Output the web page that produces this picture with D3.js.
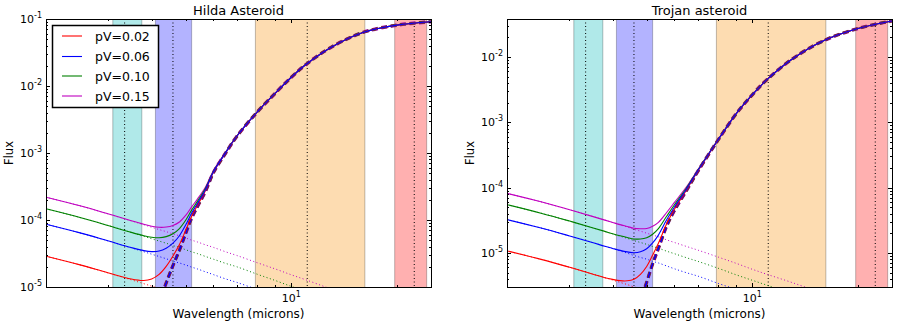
<!DOCTYPE html>
<html>
<head>
<meta charset="utf-8">
<script src="https://cdn.jsdelivr.net/npm/d3@7/dist/d3.min.js"></script>
<style>
    body { margin: 0; background: #fff; }
    svg { font-family: "DejaVu Sans", sans-serif; }
</style>
</head>
<body>
<svg id="chart" width="899" height="328"></svg>
<script>
// wavelength grid (microns) the values below were read at
const wavelength = [2.0, 2.5, 3.0, 3.5, 3.8, 4.0, 4.2, 4.4, 4.6, 4.8, 5.0, 5.2, 5.4, 5.7, 6.0, 6.5, 7.0, 8.0, 9.0, 10, 11, 13, 16, 20, 25];

const albedoLabels = ["pV=0.02", "pV=0.06", "pV=0.10", "pV=0.15"];

// Hilda: thermal emission (same for all albedos) and reflected light per albedo
const hildaThermal = [null, null, null, 3.4e-7, 1.29e-6, 2.88e-6, 5.9e-6, 1.15e-5, 2.09e-5, 3.55e-5, 6.3e-5, 1.07e-4, 1.58e-4, 2.72e-4, 5.1e-4, 1.0e-3, 1.78e-3, 4.1e-3, 7.8e-3, 0.0135, 0.0209, 0.038, 0.063, 0.081, 0.091];
const hildaReflected002 = [2.88e-5, 2.14e-5, 1.63e-5, 1.28e-5, 1.12e-5, 1.03e-5, 9.5e-6, 8.8e-6, 8.1e-6, 7.6e-6, 7.1e-6, 6.6e-6, 6.2e-6, 5.6e-6, 5.1e-6, 4.4e-6, 3.9e-6, 3.05e-6, 2.45e-6, 2.0e-6, 1.68e-6, 1.23e-6, 8.3e-7, 5.4e-7, 3.5e-7];
const hildaReflected006 = [8.64e-5, 6.42e-5, 4.89e-5, 3.84e-5, 3.36e-5, 3.09e-5, 2.85e-5, 2.64e-5, 2.43e-5, 2.28e-5, 2.13e-5, 1.98e-5, 1.86e-5, 1.68e-5, 1.53e-5, 1.32e-5, 1.17e-5, 9.15e-6, 7.35e-6, 6.0e-6, 5.04e-6, 3.69e-6, 2.49e-6, 1.62e-6, 1.05e-6];
const hildaReflected010 = [1.47e-4, 1.09e-4, 8.3e-5, 6.5e-5, 5.7e-5, 5.25e-5, 4.85e-5, 4.5e-5, 4.15e-5, 3.9e-5, 3.6e-5, 3.35e-5, 3.15e-5, 2.85e-5, 2.6e-5, 2.25e-5, 2.0e-5, 1.55e-5, 1.25e-5, 1.02e-5, 8.6e-6, 6.3e-6, 4.2e-6, 2.75e-6, 1.8e-6];
const hildaReflected015 = [2.19e-4, 1.63e-4, 1.24e-4, 9.7e-5, 8.5e-5, 7.8e-5, 7.2e-5, 6.7e-5, 6.2e-5, 5.8e-5, 5.4e-5, 5.0e-5, 4.7e-5, 4.25e-5, 3.9e-5, 3.35e-5, 2.95e-5, 2.3e-5, 1.86e-5, 1.52e-5, 1.28e-5, 9.3e-6, 6.3e-6, 4.1e-6, 2.65e-6];

// Trojan
const trojanThermal = [null, null, null, null, null, 9.1e-8, 2.2e-7, 4.6e-7, 9.3e-7, 1.86e-6, 3.55e-6, 6.8e-6, 1.17e-5, 2.57e-5, 4.47e-5, 9.1e-5, 1.78e-4, 5.4e-4, 1.35e-3, 2.63e-3, 4.47e-3, 9.3e-3, 0.0178, 0.0272, 0.0355];
const trojanReflected002 = [1.07e-5, 7.95e-6, 6.06e-6, 4.76e-6, 4.17e-6, 3.83e-6, 3.53e-6, 3.27e-6, 3.01e-6, 2.83e-6, 2.64e-6, 2.46e-6, 2.31e-6, 2.08e-6, 1.9e-6, 1.64e-6, 1.45e-6, 1.13e-6, 9.1e-7, 7.4e-7, 6.2e-7, 4.6e-7, 3.1e-7, 2.0e-7, 1.3e-7];
const trojanReflected006 = [3.23e-5, 2.4e-5, 1.83e-5, 1.44e-5, 1.26e-5, 1.16e-5, 1.07e-5, 9.9e-6, 9.1e-6, 8.5e-6, 8.0e-6, 7.4e-6, 7.0e-6, 6.3e-6, 5.7e-6, 4.95e-6, 4.4e-6, 3.4e-6, 2.75e-6, 2.25e-6, 1.87e-6, 1.39e-6, 9.4e-7, 6.0e-7, 3.9e-7];
const trojanReflected010 = [5.46e-5, 4.05e-5, 3.09e-5, 2.43e-5, 2.13e-5, 1.95e-5, 1.8e-5, 1.67e-5, 1.54e-5, 1.44e-5, 1.35e-5, 1.25e-5, 1.18e-5, 1.06e-5, 9.7e-6, 8.4e-6, 7.4e-6, 5.8e-6, 4.6e-6, 3.8e-6, 3.2e-6, 2.35e-6, 1.58e-6, 1.02e-6, 6.6e-7];
const trojanReflected015 = [8.13e-5, 6.04e-5, 4.6e-5, 3.62e-5, 3.17e-5, 2.91e-5, 2.68e-5, 2.49e-5, 2.29e-5, 2.15e-5, 2.0e-5, 1.87e-5, 1.76e-5, 1.58e-5, 1.44e-5, 1.25e-5, 1.1e-5, 8.6e-6, 6.9e-6, 5.6e-6, 4.7e-6, 3.5e-6, 2.36e-6, 1.52e-6, 9.9e-7];

// filter bands (microns) and their centre lines
const bandRanges = [[3.1, 3.75], [4.1, 5.2], [7.9, 16.2], [19.7, 24.3]];
const bandCentres = [3.35, 4.6, 11.1, 22.4];

const xMajorTicks = [10];
const xMinorTicks = [2, 3, 4, 5, 6, 7, 8, 9, 20];

const seriesColors = ["#ff0000", "#0000ff", "#008000", "#bf00bf"];
const bandColors = ["#b0e9e9", "#b3b3ff", "#fddcb1", "#ffb0b0"];

const svg = d3.select("#chart");
const plotTop = 19, plotBottom = 287, plotWidth = 385;

const panels = [
    { title: "Hilda Asteroid", left: 46, yDomain: [1e-5, 1e-1], thermal: hildaThermal,
      reflected: [hildaReflected002, hildaReflected006, hildaReflected010, hildaReflected015], legend: true },
    { title: "Trojan asteroid", left: 507, yDomain: [3.0e-6, 3.8e-2], thermal: trojanThermal,
      reflected: [trojanReflected002, trojanReflected006, trojanReflected010, trojanReflected015], legend: false }
];

function powLabel(g, x, y, exp, anchor) {
    const t = g.append("text")
        .attr("x", x).attr("y", y)
        .attr("text-anchor", anchor)
        .attr("font-size", 11)
        .attr("fill", "#000");
    t.append("tspan").text("10");
    t.append("tspan").attr("font-size", 8).attr("dy", -5).text(exp);
}

panels.forEach(function (p, pi) {
    const x = d3.scaleLog().domain([2, 25]).range([p.left, p.left + plotWidth]);
    const y = d3.scaleLog().domain(p.yDomain).range([plotBottom, plotTop]);
    const g = svg.append("g");

    g.append("clipPath").attr("id", "clip" + pi)
        .append("rect")
        .attr("x", p.left).attr("y", plotTop)
        .attr("width", plotWidth).attr("height", plotBottom - plotTop);

    const plot = g.append("g").attr("clip-path", "url(#clip" + pi + ")");

    // bands
    plot.selectAll(".band")
        .data(bandRanges)
        .enter()
        .append("rect")
        .attr("x", function (d) { return x(d[0]) })
        .attr("width", function (d) { return x(d[1]) - x(d[0]) })
        .attr("y", plotTop - 2)
        .attr("height", plotBottom - plotTop + 4)
        .attr("fill", function (d, i) { return bandColors[i] })
        .attr("stroke", "rgba(0,0,0,0.25)")
        .attr("stroke-width", 1);

    plot.selectAll(".centre")
        .data(bandCentres)
        .enter()
        .append("line")
        .attr("x1", function (d) { return x(d) })
        .attr("x2", function (d) { return x(d) })
        .attr("y1", plotTop).attr("y2", plotBottom)
        .attr("stroke", "#000")
        .attr("stroke-width", 1)
        .attr("stroke-dasharray", "1,2.5");

    const line = d3.line()
        .defined(function (d) { return d[1] != null && d[1] > 0 })
        .x(function (d) { return x(d[0]) })
        .y(function (d) { return y(d[1]) })
        .curve(d3.curveCatmullRom);

    // reflected light, dotted
    p.reflected.forEach(function (refl, i) {
        plot.append("path")
            .datum(wavelength.map(function (w, k) { return [w, refl[k]] }))
            .attr("d", line)
            .attr("fill", "none")
            .attr("stroke", seriesColors[i])
            .attr("stroke-width", 1)
            .attr("stroke-dasharray", "1,2.5");
    });

    // thermal, thick dashes, widest first
    const thermalOrder = [3, 2, 0, 1];
    const thermalWidth = [3.4, 2.7, 2.1, 1.6];
    thermalOrder.forEach(function (i, k) {
        plot.append("path")
            .datum(wavelength.map(function (w, j) { return [w, p.thermal[j]] }))
            .attr("d", line)
            .attr("fill", "none")
            .attr("stroke", seriesColors[i])
            .attr("stroke-width", thermalWidth[k])
            .attr("stroke-dasharray", "6,3.5");
    });

    // total = reflected + thermal, solid
    thermalOrder.forEach(function (i) {
        const refl = p.reflected[i];
        plot.append("path")
            .datum(wavelength.map(function (w, k) { return [w, refl[k] + (p.thermal[k] || 0)] }))
            .attr("d", line)
            .attr("fill", "none")
            .attr("stroke", seriesColors[i])
            .attr("stroke-width", 1.1);
    });

    // ticks on all four sides, pointing in
    const yLo = Math.floor(Math.log10(p.yDomain[0])), yHi = Math.ceil(Math.log10(p.yDomain[1]));
    const yMajor = [], yMinor = [];
    for (let e = yLo; e <= yHi; e++) {
        const v = Math.pow(10, e);
        if (v >= p.yDomain[0] * 0.999 && v <= p.yDomain[1] * 1.001) yMajor.push(e);
        for (let m = 2; m <= 9; m++) {
            const mv = m * v;
            if (mv >= p.yDomain[0] && mv <= p.yDomain[1]) yMinor.push(mv);
        }
    }
    const ticks = g.append("g").attr("stroke", "#000").attr("stroke-width", 1);
    function xTick(v, len) {
        const px = Math.round(x(v)) + 0.5;
        ticks.append("line").attr("x1", px).attr("x2", px).attr("y1", plotBottom).attr("y2", plotBottom - len);
        ticks.append("line").attr("x1", px).attr("x2", px).attr("y1", plotTop).attr("y2", plotTop + len);
    }
    function yTick(v, len) {
        const py = Math.round(y(v)) + 0.5;
        ticks.append("line").attr("x1", p.left).attr("x2", p.left + len).attr("y1", py).attr("y2", py);
        ticks.append("line").attr("x1", p.left + plotWidth).attr("x2", p.left + plotWidth - len).attr("y1", py).attr("y2", py);
    }
    xMajorTicks.forEach(function (v) { xTick(v, 4) });
    xMinorTicks.forEach(function (v) { xTick(v, 2) });
    yMajor.forEach(function (e) { yTick(Math.pow(10, e), 4) });
    yMinor.forEach(function (v) { yTick(v, 2) });

    // tick labels
    yMajor.forEach(function (e) {
        powLabel(g, p.left - 4, y(Math.pow(10, e)) + 4, String(e), "end");
    });
    xMajorTicks.forEach(function (v) {
        powLabel(g, x(v), 302, String(Math.round(Math.log10(v))), "middle");
    });

    // frame
    g.append("rect")
        .attr("x", p.left + 0.5).attr("y", plotTop + 0.5)
        .attr("width", plotWidth).attr("height", plotBottom - plotTop)
        .attr("fill", "none").attr("stroke", "#000").attr("stroke-width", 1);

    // title and axis labels
    g.append("text")
        .attr("x", p.left + plotWidth / 2).attr("y", 15)
        .attr("text-anchor", "middle").attr("font-size", 13)
        .text(p.title);
    g.append("text")
        .attr("x", p.left + plotWidth / 2).attr("y", 318)
        .attr("text-anchor", "middle").attr("font-size", 12)
        .text("Wavelength (microns)");
    g.append("text")
        .attr("transform", "translate(" + (p.left - 33) + ",153) rotate(-90)")
        .attr("text-anchor", "middle").attr("font-size", 11.5)
        .text("Flux");

    if (p.legend) {
        const lg = g.append("g");
        lg.append("rect")
            .attr("x", 52.5).attr("y", 25.5).attr("width", 106).attr("height", 82)
            .attr("fill", "#fff").attr("stroke", "#000").attr("stroke-width", 1.5);
        const rowY = [36, 56.5, 76, 96];
        albedoLabels.forEach(function (lab, i) {
            lg.append("line")
                .attr("x1", 62).attr("x2", 82)
                .attr("y1", rowY[i]).attr("y2", rowY[i])
                .attr("stroke", seriesColors[i]).attr("stroke-width", 1.1);
            lg.append("text")
                .attr("x", 95).attr("y", rowY[i] + 4.5)
                .attr("font-size", 12.5)
                .text(lab);
        });
    }
});
</script>
</body>
</html>
